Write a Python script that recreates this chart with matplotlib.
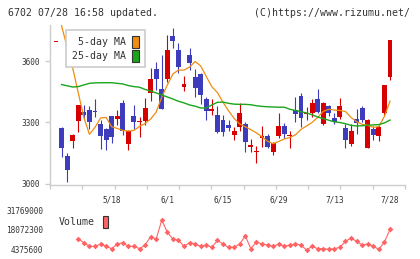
import numpy as np
import matplotlib.pyplot as plt
from matplotlib.patches import Patch

# Daily candles (OHLC)
opens = [3698, 3275, 3137, 3211, 3309, 3351, 3361, 3357, 3291, 3267,
         3332, 3317, 3396, 3196, 3332, 3304, 3306, 3443, 3561, 3463,
         3513, 3725, 3655, 3473, 3631, 3522, 3538, 3415, 3358, 3337,
         3312, 3288, 3239, 3279, 3293, 3181, 3155, 3225, 3234, 3157,
         3235, 3283, 3234, 3361, 3430, 3343, 3348, 3414, 3293, 3381,
         3323, 3328, 3272, 3195, 3317, 3370, 3176, 3267, 3235, 3348,
         3524]
highs = [3698, 3280, 3152, 3245, 3388, 3386, 3381, 3415, 3312, 3272,
         3332, 3361, 3410, 3262, 3386, 3328, 3418, 3566, 3595, 3631,
         3729, 3765, 3688, 3528, 3667, 3561, 3545, 3426, 3415, 3381,
         3337, 3312, 3279, 3397, 3301, 3219, 3185, 3283, 3242, 3206,
         3345, 3296, 3258, 3424, 3443, 3377, 3415, 3463, 3402, 3386,
         3345, 3419, 3291, 3293, 3366, 3381, 3317, 3283, 3288, 3486,
         3706]
lows = [3698, 3130, 3010, 3176, 3255, 3314, 3268, 3328, 3172, 3167,
        3201, 3288, 3239, 3165, 3267, 3230, 3288, 3405, 3459, 3368,
        3498, 3667, 3541, 3456, 3557, 3426, 3391, 3312, 3337, 3247,
        3234, 3260, 3214, 3260, 3157, 3154, 3103, 3181, 3174, 3141,
        3225, 3223, 3176, 3304, 3279, 3312, 3328, 3345, 3288, 3333,
        3293, 3317, 3176, 3185, 3244, 3304, 3176, 3214, 3211, 3332,
        3508]
closes = [3698, 3177, 3067, 3239, 3386, 3338, 3304, 3353, 3235, 3214,
          3230, 3332, 3260, 3260, 3304, 3309, 3371, 3512, 3513, 3368,
          3655, 3701, 3574, 3489, 3593, 3468, 3436, 3358, 3368, 3255,
          3255, 3275, 3260, 3345, 3206, 3190, 3160, 3235, 3181, 3198,
          3283, 3244, 3239, 3342, 3324, 3348, 3394, 3353, 3394, 3345,
          3304, 3381, 3214, 3258, 3296, 3312, 3312, 3239, 3276, 3484,
          3704]

# Moving averages as drawn on the chart
ma5 = [np.nan, 3775, 3668, 3567, 3445, 3326, 3242, 3276, 3322, 3325,
       3279, 3271, 3261, 3258, 3261, 3281, 3295, 3317, 3351, 3425,
       3484, 3538, 3557, 3557, 3572, 3599, 3577, 3525, 3475, 3447,
       3399, 3357, 3320, 3293, 3279, 3265, 3249, 3230, 3208, 3196,
       3207, 3219, 3226, 3239, 3266, 3283, 3300, 3325, 3354, 3365,
       3361, 3359, 3354, 3325, 3304, 3291, 3286, 3276, 3280, 3331,
       3405]
ma25 = [np.nan, 3486, 3480, 3474, 3476, 3484, 3492, 3494, 3495, 3495,
        3495, 3492, 3489, 3481, 3476, 3473, 3462, 3454, 3445, 3435,
        3425, 3415, 3404, 3396, 3386, 3380, 3371, 3372, 3386, 3399,
        3400, 3394, 3390, 3389, 3389, 3387, 3382, 3379, 3377, 3376,
        3375, 3375, 3365, 3359, 3353, 3347, 3338, 3327, 3320, 3311,
        3303, 3300, 3294, 3286, 3283, 3284, 3287, 3288, 3290, 3298,
        3312]

# Volume (starts at the 5th candle)
vol_start = 4
volume = [11550000, 9000000, 6450000, 6450000, 8070000, 6450000, 4810000,
          8070000, 9000000, 6450000, 6450000, 4810000, 7370000, 13180000,
          11550000, 24800000, 16200000, 11550000, 10630000, 6450000, 9000000,
          8070000, 6450000, 7370000, 5750000, 10630000, 8070000, 5750000,
          5750000, 8070000, 13650000, 4810000, 9460000, 8070000, 7370000,
          6450000, 8070000, 6450000, 7370000, 8070000, 7370000, 3890000,
          6450000, 4810000, 4810000, 4350000, 4810000, 5750000, 9930000,
          12250000, 9930000, 7370000, 8070000, 6450000, 4350000, 9460000,
          18300000]

date_idx = [10, 20, 30, 40, 50, 60]
date_labels = ["5/18", "6/1", "6/15", "6/29", "7/13", "7/28"]
price_ticks = [3000, 3300, 3600]
vol_ticks = [4375600, 18072300, 31769000]

RED = '#d70000'
BLUE = '#3c3cbc'
ORANGE = '#f08c10'
GREEN = '#1aa51a'
VOLC = '#ff6464'
GRID = '#cccccc'
TXT = '#333333'
MONO = 'DejaVu Sans Mono'

W, H = 420, 259
fig = plt.figure(figsize=(W / 100, H / 100), dpi=100)
fig.patch.set_facecolor('white')

x_lo, x_hi = -1.078, 62.69

# ---- price panel ----
ax = fig.add_axes([50 / W, (H - 184.7) / H, 355 / W, 159.7 / H])
x = np.arange(len(closes))
o = np.array(opens, dtype=float)
c = np.array(closes, dtype=float)
col = np.where(c >= o, RED, BLUE)

ax.vlines(x, lows, highs, colors=col, lw=0.8, zorder=2)
# a doji still gets a one-pixel body
body_lo = np.minimum(o, c)
body_h = np.maximum(np.abs(c - o), 5)
ax.bar(x, body_h, bottom=body_lo - (body_h - np.abs(c - o)) / 2, width=0.88,
       color=col, linewidth=0, zorder=3)

ax.plot(x, ma5, color=ORANGE, lw=0.9, zorder=4)
ax.plot(x, ma25, color=GREEN, lw=1.0, zorder=4)

ax.set_xlim(x_lo, x_hi)
ax.set_ylim(2995, 3778)
for s in ['top', 'right']:
    ax.spines[s].set_visible(False)
for s in ['left', 'bottom']:
    ax.spines[s].set_color(GRID)
    ax.spines[s].set_linewidth(1.0)

ax.set_yticks(price_ticks)
ax.set_yticklabels([str(p) for p in price_ticks])
ax.tick_params(axis='y', length=3.6, width=1.0, color=GRID, labelcolor=TXT,
               labelsize=5.6, pad=4)
for t in ax.get_yticklabels():
    t.set_family(MONO)

ax.set_xticks(date_idx)
ax.set_xticklabels(date_labels)
ax.set_xticks(np.linspace(x_lo, x_hi, 12), minor=True)
ax.tick_params(axis='x', which='major', length=0, labelcolor=TXT,
               labelsize=5.6, pad=7.5)
ax.tick_params(axis='x', which='minor', length=3.1, width=1.0, color=GRID)
for t in ax.get_xticklabels():
    t.set_family(MONO)

handles = [Patch(facecolor=ORANGE, edgecolor='#333333', linewidth=0.8),
           Patch(facecolor=GREEN, edgecolor='#333333', linewidth=0.8)]
leg = ax.legend(handles, ['5-day MA', '25-day MA'], loc='upper left',
                bbox_to_anchor=((65.7 - 50) / 355, 1 - 5 / 159.7),
                borderaxespad=0, markerfirst=False, fancybox=False,
                framealpha=1, edgecolor=GRID,
                prop={'family': MONO, 'size': 7.1},
                handlelength=0.68, handleheight=1.5, handletextpad=0.68,
                labelspacing=0.16, borderpad=0.6)
leg.get_frame().set_linewidth(1.2)
for t in leg.get_texts():
    t.set_color(TXT)
leg.set_zorder(10)

# ---- volume panel ----
axv = fig.add_axes([50 / W, (H - 249.3) / H, 355 / W, 39.3 / H])
xv = np.arange(vol_start, vol_start + len(volume))
axv.plot(xv, volume, color=VOLC, lw=0.8, marker='D', ms=2.9,
         markeredgewidth=0, clip_on=False)
axv.set_xlim(x_lo, x_hi)
axv.set_ylim(vol_ticks[0], vol_ticks[-1])
for s in axv.spines.values():
    s.set_visible(False)
axv.set_xticks([])
axv.set_yticks(vol_ticks)
axv.set_yticklabels([str(v) for v in vol_ticks])
axv.tick_params(axis='y', length=0, labelcolor=TXT, labelsize=5.6, pad=5)
for t in axv.get_yticklabels():
    t.set_family(MONO)
axv.patch.set_alpha(0)

vleg = axv.legend([Patch(facecolor=VOLC, edgecolor='#333333', linewidth=0.8)],
                  ['Volume'], loc='center left',
                  bbox_to_anchor=((59 - 50) / 355, (249.3 - 222) / 39.3),
                  borderaxespad=0, borderpad=0, markerfirst=False, frameon=False,
                  prop={'family': MONO, 'size': 7.1},
                  handlelength=0.57, handleheight=1.5, handletextpad=0.78)
for t in vleg.get_texts():
    t.set_color(TXT)

# ---- header ----
fig.text(8 / W, 1 - 13 / H, '6702 07/28 16:58 updated.', ha='left', va='center',
         family=MONO, size=7.1, color=TXT)
fig.text(410 / W, 1 - 13 / H, '(C)https://www.rizumu.net/', ha='right', va='center',
         family=MONO, size=7.1, color=TXT)

fig.savefig('out.png', dpi=100)
